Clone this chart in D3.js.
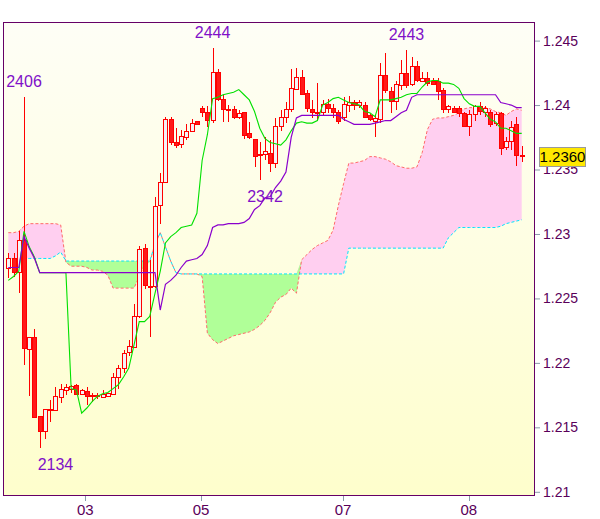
<!DOCTYPE html>
<html><head><meta charset="utf-8">
<script src="https://cdn.jsdelivr.net/npm/d3@7"></script>
<style>html,body{margin:0;padding:0;background:#fff;}svg{display:block;}</style>
</head><body>
<svg id="chart" width="600" height="519"></svg>
<script>
// ---- data ----
const opens  = [1.2273,1.2281,1.2270,1.2295,1.2211,1.2220,1.2159,1.2147,1.2163,1.2163,1.2174,1.2179,1.2180,1.2183,1.2176,1.2178,1.2175,1.2174,1.2174,1.2175,1.2176,1.2189,1.2196,1.2208,1.2212,1.2236,1.2289,1.2260,1.2260,1.2322,1.2340,1.2389,1.2371,1.2370,1.2375,1.2380,1.2388,1.2398,1.2395,1.2389,1.2426,1.2405,1.2397,1.2397,1.2391,1.2395,1.2378,1.2374,1.2361,1.2362,1.2363,1.2355,1.2384,1.2391,1.2397,1.2413,1.2422,1.2409,1.2397,1.2395,1.2395,1.2401,1.2398,1.2395,1.2391,1.2400,1.2402,1.2400,1.2400,1.2392,1.2388,1.2389,1.2423,1.2411,1.2403,1.2416,1.2425,1.2416,1.2430,1.2419,1.2421,1.2419,1.2419,1.2412,1.2397,1.2398,1.2398,1.2394,1.2384,1.2393,1.2399,1.2395,1.2395,1.2386,1.2394,1.2367,1.2372,1.2385,1.2361];
const highs  = [1.2285,1.2285,1.2302,1.2406,1.2220,1.2226,1.2159,1.2164,1.2171,1.2181,1.2184,1.2184,1.2183,1.2184,1.2180,1.2181,1.2177,1.2177,1.2179,1.2177,1.2192,1.2198,1.2210,1.2218,1.2246,1.2291,1.2292,1.2280,1.2329,1.2347,1.2391,1.2391,1.2382,1.2381,1.2385,1.2389,1.2388,1.2399,1.2399,1.2444,1.2428,1.2408,1.2400,1.2399,1.2396,1.2395,1.2387,1.2374,1.2371,1.2375,1.2373,1.2390,1.2396,1.2402,1.2428,1.2429,1.2427,1.2412,1.2404,1.2417,1.2404,1.2405,1.2401,1.2396,1.2406,1.2407,1.2404,1.2404,1.2402,1.2393,1.2392,1.2433,1.2440,1.2414,1.2419,1.2435,1.2443,1.2437,1.2434,1.2426,1.2426,1.2421,1.2421,1.2413,1.2400,1.2399,1.2399,1.2395,1.2396,1.2400,1.2402,1.2399,1.2396,1.2395,1.2395,1.2375,1.2388,1.2391,1.2368];
const lows   = [1.2266,1.2267,1.2254,1.2198,1.2174,1.2158,1.2134,1.2141,1.2154,1.2163,1.2169,1.2175,1.2177,1.2175,1.2175,1.2167,1.2170,1.2172,1.2173,1.2174,1.2175,1.2180,1.2192,1.2205,1.2212,1.2235,1.2257,1.2220,1.2258,1.2308,1.2340,1.2369,1.2367,1.2367,1.2373,1.2380,1.2385,1.2391,1.2383,1.2386,1.2403,1.2387,1.2387,1.2389,1.2389,1.2374,1.2374,1.2352,1.2342,1.2357,1.2348,1.2351,1.2380,1.2386,1.2395,1.2412,1.2408,1.2395,1.2390,1.2388,1.2392,1.2394,1.2390,1.2385,1.2388,1.2395,1.2396,1.2398,1.2390,1.2388,1.2375,1.2386,1.2409,1.2394,1.2396,1.2412,1.2413,1.2415,1.2418,1.2418,1.2415,1.2416,1.2404,1.2394,1.2394,1.2394,1.2391,1.2383,1.2376,1.2388,1.2392,1.2391,1.2383,1.2384,1.2361,1.2365,1.2365,1.2353,1.2356];
const closes = [1.2281,1.2270,1.2295,1.2211,1.2220,1.2158,1.2147,1.2164,1.2164,1.2174,1.2180,1.2181,1.2182,1.2176,1.2179,1.2174,1.2174,1.2175,1.2176,1.2177,1.2189,1.2196,1.2208,1.2213,1.2236,1.2288,1.2260,1.2259,1.2322,1.2340,1.2389,1.2371,1.2369,1.2376,1.2380,1.2386,1.2386,1.2395,1.2389,1.2426,1.2405,1.2397,1.2396,1.2391,1.2394,1.2377,1.2375,1.2361,1.2362,1.2364,1.2355,1.2384,1.2391,1.2397,1.2413,1.2422,1.2409,1.2397,1.2395,1.2394,1.2401,1.2398,1.2395,1.2388,1.2401,1.2402,1.2400,1.2402,1.2391,1.2389,1.2390,1.2423,1.2411,1.2403,1.2416,1.2425,1.2416,1.2430,1.2419,1.2421,1.2417,1.2417,1.2411,1.2397,1.2399,1.2395,1.2394,1.2384,1.2393,1.2399,1.2395,1.2398,1.2386,1.2393,1.2367,1.2372,1.2383,1.2361,1.2360];
const tenkan = [1.2264,1.2267,1.2271,1.2302,1.2290,1.2282,1.2270,1.2270,1.2270,1.2270,1.2270,1.2270,1.2180,1.2179,1.2161,1.2165,1.2170,1.2174,1.2176,1.2177,1.2180,1.2183,1.2189,1.2196,1.2214,1.2232,1.2232,1.2236,1.2254,1.2271,1.2293,1.2298,1.2301,1.2305,1.2306,1.2307,1.2316,1.2357,1.2377,1.2405,1.2406,1.2408,1.2409,1.2410,1.2412,1.2408,1.2404,1.2395,1.2382,1.2374,1.2371,1.2370,1.2369,1.2373,1.2380,1.2386,1.2387,1.2386,1.2386,1.2388,1.2400,1.2402,1.2405,1.2406,1.2404,1.2402,1.2401,1.2400,1.2395,1.2394,1.2391,1.2404,1.2404,1.2404,1.2405,1.2406,1.2408,1.2409,1.2409,1.2414,1.2418,1.2419,1.2419,1.2417,1.2417,1.2416,1.2413,1.2405,1.2401,1.2399,1.2399,1.2394,1.2389,1.2387,1.2382,1.2382,1.2380,1.2378,1.2378];
const kijun  = [1.2274,1.2274,1.2274,1.2298,1.2289,1.2281,1.2270,1.2270,1.2270,1.2270,1.2270,1.2270,1.2270,1.2270,1.2270,1.2270,1.2270,1.2270,1.2270,1.2270,1.2270,1.2270,1.2270,1.2270,1.2270,1.2270,1.2270,1.2270,1.2270,1.2241,1.2261,1.2264,1.2268,1.2274,1.2279,1.2280,1.2281,1.2284,1.2291,1.2305,1.2307,1.2307,1.2308,1.2308,1.2308,1.2309,1.2312,1.2319,1.2322,1.2328,1.2329,1.2336,1.2341,1.2348,1.2375,1.2390,1.2392,1.2392,1.2392,1.2392,1.2392,1.2392,1.2392,1.2392,1.2389,1.2387,1.2385,1.2385,1.2385,1.2385,1.2386,1.2387,1.2388,1.2388,1.2391,1.2394,1.2396,1.2406,1.2408,1.2408,1.2408,1.2408,1.2408,1.2408,1.2408,1.2408,1.2408,1.2408,1.2408,1.2408,1.2408,1.2408,1.2408,1.2408,1.2402,1.2401,1.2400,1.2398,1.2398];
const spanA  = [1.2301,1.2301,1.2302,1.2306,1.2308,1.2308,1.2308,1.2308,1.2308,1.2308,1.2307,1.2278,1.2275,1.2275,1.2275,1.2274,1.2272,1.2272,1.2271,1.2268,1.2258,1.2258,1.2258,1.2258,1.2258,1.2267,1.2276,1.2278,1.2292,1.2301,1.2290,1.2279,1.2270,1.2269,1.2269,1.2269,1.2269,1.2267,1.2223,1.2218,1.2215,1.2217,1.2219,1.2221,1.2222,1.2223,1.2224,1.2226,1.2229,1.2233,1.2239,1.2247,1.2251,1.2253,1.2258,1.2254,1.2280,1.2284,1.2288,1.2291,1.2293,1.2295,1.2303,1.2322,1.2339,1.2355,1.2355,1.2356,1.2357,1.2360,1.2360,1.2359,1.2358,1.2356,1.2353,1.2352,1.2351,1.2351,1.2352,1.2363,1.2381,1.2389,1.2390,1.2390,1.2391,1.2392,1.2394,1.2397,1.2398,1.2398,1.2398,1.2398,1.2397,1.2395,1.2394,1.2392,1.2395,1.2397,1.2396];
const spanB  = [1.2281,1.2281,1.2281,1.2281,1.2281,1.2281,1.2281,1.2281,1.2281,1.2283,1.2286,1.2279,1.2279,1.2279,1.2279,1.2279,1.2279,1.2279,1.2279,1.2279,1.2279,1.2279,1.2279,1.2279,1.2279,1.2279,1.2279,1.2279,1.2292,1.2301,1.2290,1.2279,1.2270,1.2269,1.2269,1.2269,1.2269,1.2269,1.2269,1.2269,1.2269,1.2269,1.2269,1.2269,1.2269,1.2269,1.2269,1.2269,1.2269,1.2269,1.2269,1.2269,1.2269,1.2269,1.2269,1.2269,1.2269,1.2269,1.2269,1.2269,1.2269,1.2269,1.2269,1.2269,1.2269,1.2289,1.2289,1.2289,1.2289,1.2289,1.2289,1.2289,1.2289,1.2289,1.2289,1.2289,1.2289,1.2289,1.2289,1.2289,1.2289,1.2289,1.2289,1.2289,1.2297,1.2301,1.2305,1.2305,1.2305,1.2305,1.2305,1.2305,1.2305,1.2305,1.2306,1.2308,1.2309,1.2310,1.2311];
const yTickValues = [1.21,1.215,1.22,1.225,1.23,1.235,1.24,1.245];
const xTickLabels = ["03","05","07","08"];
const xTickIndex  = [14.7,36.8,63.9,87.9];
const markText  = ["2406","2444","2443","2342","2134"];
const markIndex = [3,39,76,49,9];
const markPrice = [1.2406,1.2444,1.2443,1.2342,1.2134];
const markSide  = ["high","high","high","low","low"];
const lastPrice = 1.2360;

// ---- layout ----
const W = 600, H = 519;
const plot = {left:3, top:22, right:535, bottom:496};
const N = closes.length;
const x = d3.scaleLinear().domain([0, N-1]).range([8.3, 521.7]);
const y = d3.scaleLinear().domain([1.21, 1.245]).range([491.8, 40.6]);

const svg = d3.select("#chart");
const defs = svg.append("defs");
const grad = defs.append("linearGradient").attr("id","bg").attr("x1",0).attr("y1",0).attr("x2",0).attr("y2",1);
grad.append("stop").attr("offset","0%").attr("stop-color","#fefef6");
grad.append("stop").attr("offset","100%").attr("stop-color","#fefecc");
defs.append("clipPath").attr("id","clip").append("rect")
  .attr("x",plot.left).attr("y",plot.top).attr("width",plot.right-plot.left).attr("height",plot.bottom-plot.top);

svg.append("rect").attr("width",W).attr("height",H).attr("fill","#fff");
svg.append("rect").attr("x",plot.left).attr("y",plot.top)
  .attr("width",plot.right-plot.left).attr("height",plot.bottom-plot.top).attr("fill","url(#bg)");

const g = svg.append("g").attr("clip-path","url(#clip)");
const idx = d3.range(N);

// cloud fills
const pinkArea = d3.area().x(i=>x(i)).y0(i=>y(spanB[i])).y1(i=>y(Math.max(spanA[i],spanB[i])));
const greenArea = d3.area().x(i=>x(i)).y0(i=>y(spanA[i])).y1(i=>y(Math.max(spanA[i],spanB[i])));
g.append("path").attr("d",pinkArea(idx)).attr("fill","#ffcff0");
g.append("path").attr("d",greenArea(idx)).attr("fill","#b0ff98");

// span lines
const lineOf = arr => d3.line().x(i=>x(i)).y(i=>y(arr[i]))(idx);
g.append("path").attr("d",lineOf(spanA)).attr("fill","none").attr("stroke","#ff6a6a")
  .attr("stroke-width",1).attr("stroke-dasharray","3,2");
g.append("path").attr("d",lineOf(spanB)).attr("fill","none").attr("stroke","#00e4ff")
  .attr("stroke-width",1).attr("stroke-dasharray","3,2");

// candles
const cg = g.append("g").attr("shape-rendering","crispEdges");
idx.forEach(i=>{
  const xc = Math.round(x(i));
  cg.append("line").attr("x1",xc+0.5).attr("x2",xc+0.5)
    .attr("y1",y(highs[i])).attr("y2",y(lows[i])).attr("stroke","#ff0000").attr("stroke-width",1);
  const up = closes[i] >= opens[i];
  const top = y(Math.max(opens[i],closes[i]));
  const h = Math.max(1, Math.abs(y(opens[i])-y(closes[i])));
  cg.append("rect").attr("x",xc-1.5).attr("y",Math.round(top)+0.5).attr("width",4).attr("height",Math.round(h))
    .attr("fill", up ? "#f3f3f8" : "#ff1a1a").attr("stroke","#ff0000").attr("stroke-width",1);
});

// tenkan / kijun
g.append("path").attr("d",lineOf(tenkan)).attr("fill","none").attr("stroke","#00e000").attr("stroke-width",1.1);
g.append("path").attr("d",lineOf(kijun)).attr("fill","none").attr("stroke","#8a00cc").attr("stroke-width",1.2);

// extreme labels
markText.forEach((t,k)=>{
  const yy = y(markPrice[k]);
  svg.append("text").attr("x",x(markIndex[k])).attr("y", markSide[k]==="high" ? yy-10 : yy+22)
    .attr("text-anchor","middle").attr("font-family","Liberation Sans, Arial, sans-serif")
    .attr("font-size",16).attr("fill","#8010c8").text(t);
});

// frame
svg.append("rect").attr("x",plot.left+0.5).attr("y",plot.top+0.5)
  .attr("width",plot.right-plot.left-1).attr("height",plot.bottom-plot.top-1)
  .attr("fill","none").attr("stroke","#660066").attr("stroke-width",1).attr("shape-rendering","crispEdges");

// right axis
const yAxis = d3.axisRight(y).tickValues(yTickValues).tickSize(5).tickPadding(3)
  .tickFormat(d=>String(+d.toFixed(3)));
const ya = svg.append("g").attr("transform",`translate(${plot.right},0)`).call(yAxis);
ya.select(".domain").remove();
ya.selectAll("line").attr("stroke","#8a9aaa");
ya.selectAll("text").attr("font-family","Liberation Sans, Arial, sans-serif").attr("font-size",14).attr("fill","#5a005a");

// bottom axis
const xa = svg.append("g").attr("transform",`translate(0,${plot.bottom})`);
xTickIndex.forEach((v,k)=>{
  xa.append("line").attr("x1",Math.round(x(v))+0.5).attr("x2",Math.round(x(v))+0.5).attr("y1",0).attr("y2",5)
    .attr("stroke","#8a9aaa");
  xa.append("text").attr("x",x(v)).attr("y",19).attr("text-anchor","middle")
    .attr("font-family","Liberation Sans, Arial, sans-serif").attr("font-size",15).attr("fill","#5a005a").text(xTickLabels[k]);
});

// last price box
const py = y(lastPrice);
svg.append("rect").attr("x",539.5).attr("y",Math.round(py)-9.5).attr("width",46).attr("height",19)
  .attr("fill","#ffe800").attr("stroke","#9a9a9a").attr("stroke-width",1);
svg.append("text").attr("x",562.5).attr("y",py+5.5).attr("text-anchor","middle")
  .attr("font-family","Liberation Sans, Arial, sans-serif").attr("font-size",15).attr("fill","#000").text(lastPrice.toFixed(4));
</script>
</body></html>
